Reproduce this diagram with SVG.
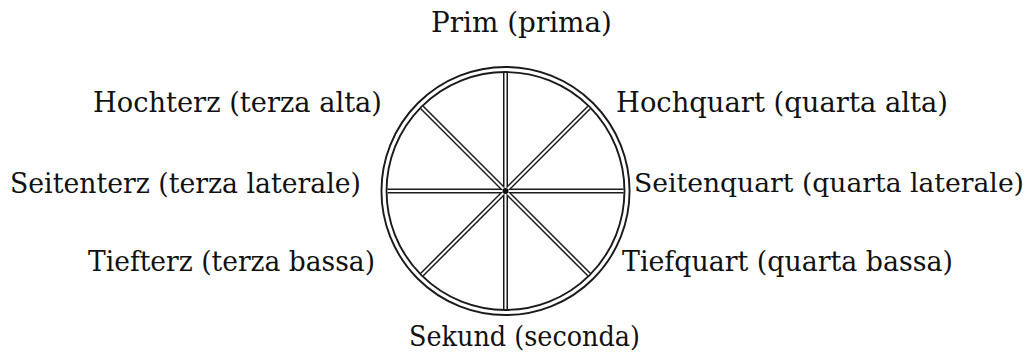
<svg xmlns="http://www.w3.org/2000/svg" width="1033" height="358" viewBox="0 0 1033 358">
<style>
.lbl{font-family:"DejaVu Serif","Liberation Serif",serif;font-size:28px;fill:#111;}
.ringb{fill:none;stroke:#1a1a1a;stroke-width:7;}
.ringw{fill:none;stroke:#fff;stroke-width:3.2;}
.spb{stroke:#1a1a1a;stroke-width:5;}
.spw{stroke:#fff;stroke-width:2;}
</style>
<rect width="1033" height="358" fill="#fff"/>
<g id="wheel">
<circle class="ringb" cx="505.5" cy="191" r="121.5"/>
<circle class="ringw" cx="505.5" cy="191" r="121.5"/>
</g>
<g id="connectors">
<g class="spb">
<line x1="505.5" y1="73" x2="505.5" y2="309"/>
<line x1="387.5" y1="191" x2="623.5" y2="191"/>
<line x1="422" y1="107.5" x2="589" y2="274.5"/>
<line x1="589" y1="107.5" x2="422" y2="274.5"/>
</g>
<g class="spw">
<line x1="505.5" y1="73" x2="505.5" y2="309"/>
<line x1="387.5" y1="191" x2="623.5" y2="191"/>
<line x1="422" y1="107.5" x2="589" y2="274.5"/>
<line x1="589" y1="107.5" x2="422" y2="274.5"/>
</g>
<circle cx="505.5" cy="191" r="3" fill="#111"/>
</g>
<g id="prim"><text class="lbl" x="431" y="32" textLength="181" lengthAdjust="spacingAndGlyphs">Prim (prima)</text></g>
<g id="hochterz"><text class="lbl" x="93" y="111.5" textLength="289" lengthAdjust="spacingAndGlyphs">Hochterz (terza alta)</text></g>
<g id="hochquart"><text class="lbl" x="616" y="112" textLength="332" lengthAdjust="spacingAndGlyphs">Hochquart (quarta alta)</text></g>
<g id="seitenterz"><text class="lbl" x="10" y="192.5" textLength="351" lengthAdjust="spacingAndGlyphs">Seitenterz (terza laterale)</text></g>
<g id="seitenquart"><text class="lbl" x="634" y="192" font-size="26" style="font-size:26px" textLength="390" lengthAdjust="spacingAndGlyphs">Seitenquart (quarta laterale)</text></g>
<g id="tiefterz"><text class="lbl" x="88" y="270.5" textLength="287" lengthAdjust="spacingAndGlyphs">Tiefterz (terza bassa)</text></g>
<g id="tiefquart"><text class="lbl" x="622" y="270.5" textLength="331" lengthAdjust="spacingAndGlyphs">Tiefquart (quarta bassa)</text></g>
<g id="sekund"><text class="lbl" x="409" y="346" textLength="231" lengthAdjust="spacingAndGlyphs">Sekund (seconda)</text></g>
</svg>
